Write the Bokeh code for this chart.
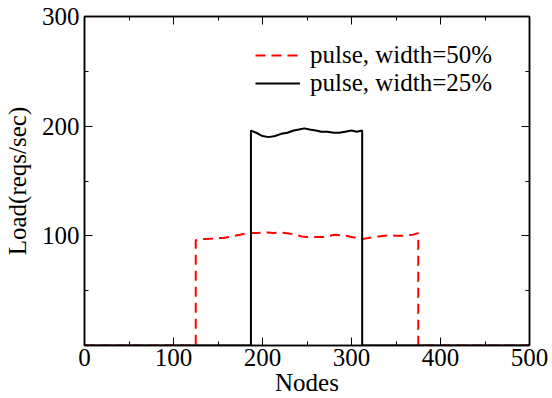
from bokeh.plotting import figure
from bokeh.models import Range1d, LinearAxis, FixedTicker, Legend, LegendItem, CustomJSTickFormatter
from bokeh.embed import file_html
from bokeh.resources import INLINE

# Data
red_x = [0, 125, 125, 131, 137, 144, 150, 156, 162, 169, 175, 181, 187, 194, 200, 206, 212, 219, 225,
         231, 237, 244, 250, 256, 262, 269, 275, 281, 287, 294, 300, 306, 312, 319, 325, 331, 337,
         344, 350, 356, 362, 369, 375, 375, 500]
red_y = [0, 0, 96, 97, 97, 97.5, 98, 98, 99, 100, 101, 102, 102.5, 102.5, 103, 103, 102.5, 103, 102.5,
         102, 101, 99.5, 99, 99, 99, 99, 100, 101, 100.5, 100, 99, 98, 97, 98, 99, 99.5, 100,
         100.5, 100, 100, 100.5, 101, 102.5, 0, 0]

black_x = [0, 187, 187, 193, 200, 207, 214, 221, 228, 235, 241, 247, 253, 260, 266, 273, 280, 286,
           293, 300, 306, 312, 312, 500]
black_y = [0, 0, 196, 194, 191, 190, 191, 193, 194, 196, 197, 198, 197, 196, 195, 195, 194, 194,
           195, 196, 195, 196, 0, 0]

labels = ["pulse, width=50%", "pulse, width=25%"]
x_major = [0, 100, 200, 300, 400, 500]
x_minor = [50, 150, 250, 350, 450]
y_major = [100, 200, 300]
y_minor = [50, 150, 250]

FONT = "Liberation Serif"
FS = "25px"

p = figure(width=552, height=398, output_backend="svg", toolbar_location=None,
           x_range=Range1d(0, 500), y_range=Range1d(0, 300),
           min_border_left=82, min_border_right=23, min_border_top=16, min_border_bottom=52,
           x_axis_label="Nodes", y_axis_label="Load(reqs/sec)")
p.xgrid.visible = False
p.ygrid.visible = False
p.outline_line_color = "black"
p.outline_line_width = 1.5
p.background_fill_color = "white"
p.border_fill_color = "white"

r1 = p.line(red_x, red_y, line_color="red", line_width=2, line_dash="10 6")
r2 = p.line(black_x, black_y, line_color="black", line_width=2)

def style(ax, show_labels=True):
    ax.major_tick_in = 8
    ax.major_tick_out = 0
    ax.minor_tick_in = 4
    ax.minor_tick_out = 0
    ax.axis_line_width = 1.5
    ax.major_tick_line_width = 1
    ax.minor_tick_line_width = 1
    ax.major_label_text_font = FONT
    ax.major_label_text_font_size = FS
    ax.major_label_text_color = "black"
    ax.axis_label_text_font = FONT
    ax.axis_label_text_font_size = FS
    ax.axis_label_text_font_style = "normal"
    ax.axis_label_text_color = "black"
    if not show_labels:
        ax.formatter = CustomJSTickFormatter(code="return ''")
        ax.major_label_text_font_size = "1px"

xt = FixedTicker(ticks=x_major, minor_ticks=x_minor)
yt = FixedTicker(ticks=y_major, minor_ticks=y_minor)

for ax in p.xaxis:
    ax.ticker = xt
    style(ax)
    ax.major_label_standoff = 3
    ax.axis_label_standoff = 0
for ax in p.yaxis:
    ax.ticker = yt
    style(ax)
    ax.major_label_standoff = 5
    ax.axis_label_standoff = 8

top = LinearAxis(ticker=FixedTicker(ticks=x_major, minor_ticks=x_minor))
style(top, False)
p.add_layout(top, "above")
right = LinearAxis(ticker=FixedTicker(ticks=y_major, minor_ticks=y_minor))
style(right, False)
p.add_layout(right, "right")

legend = Legend(items=[LegendItem(label=labels[0], renderers=[r1]),
                       LegendItem(label=labels[1], renderers=[r2])],
                location=(171, 248))
legend.background_fill_alpha = 0
legend.border_line_alpha = 0
legend.label_text_font = FONT
legend.label_text_font_size = FS
legend.label_text_color = "black"
legend.glyph_width = 45
legend.glyph_height = 20
legend.label_height = 20
legend.spacing = 0
legend.padding = 0
legend.margin = 0
legend.label_standoff = 10
p.add_layout(legend)

open("out.html", "w").write(file_html(p, INLINE))
